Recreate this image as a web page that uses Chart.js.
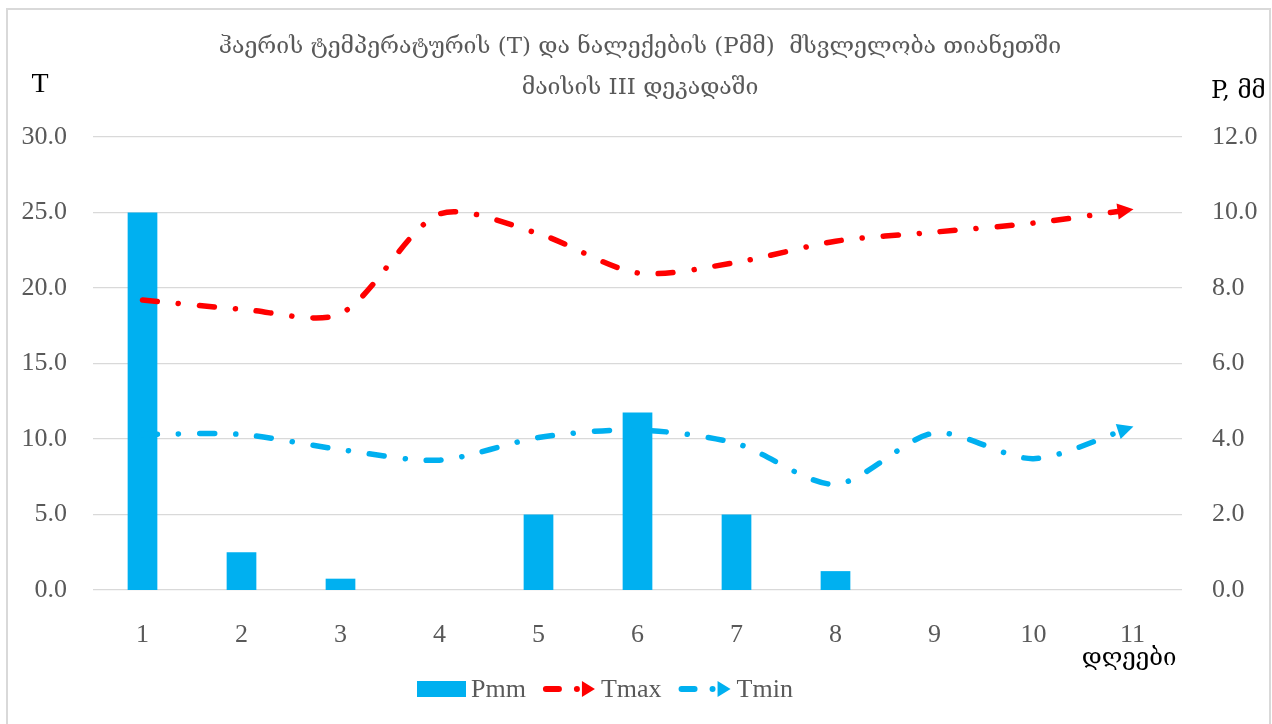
<!DOCTYPE html>
<html>
<head>
<meta charset="utf-8">
<script src="https://cdn.jsdelivr.net/npm/chart.js@4/dist/chart.umd.min.js"></script>
<style>
  html, body { margin: 0; padding: 0; background: #ffffff; }
  #wrap { width: 1272px; height: 724px; position: relative; }
</style>
</head>
<body>
<div id="wrap"><canvas id="chart" width="1272" height="724"></canvas></div>
<script>
// Days of the third decade of May
const days = ['1', '2', '3', '4', '5', '6', '7', '8', '9', '10', '11'];
// Precipitation, mm (right axis)
const precipitation = [10.0, 1.0, 0.3, 0, 2.0, 4.7, 2.0, 0.5, 0, 0, 0];
// Maximum and minimum air temperature, °C (left axis)
const tMax = [19.2, 18.6, 18.3, 24.9, 23.6, 21.0, 21.7, 23.1, 23.7, 24.3, 25.2];
const tMin = [10.3, 10.3, 9.3, 8.6, 10.1, 10.6, 9.7, 7.0, 10.4, 8.7, 10.8];
// Axis ticks
const tTicks = [0, 5, 10, 15, 20, 25, 30];
const pTicks = [0, 2, 4, 6, 8, 10, 12];

const titleLines = [
  'ჰაერის ტემპერატურის (T) და ნალექების (Pმმ)  მსვლელობა თიანეთში',
  'მაისის III დეკადაში'
];
const leftAxisTitle = 'T';
const rightAxisTitle = 'P, მმ';
const xAxisTitle = 'დღეები';

const BLUE = '#00b0f0';
const RED = '#ff0000';
const GRID = '#d9d9d9';
const TEXT = '#595959';
const SERIF = "'Liberation Serif', 'DejaVu Serif', serif";
const GEO = "'DejaVu Serif', 'Liberation Serif', serif";
const DASH = [15, 21, 0.1, 21];

// Outer frame and free-standing texts
const decorations = {
  id: 'decorations',
  beforeDraw(chart) {
    const ctx = chart.ctx;
    ctx.save();
    ctx.fillStyle = '#ffffff';
    ctx.fillRect(0, 0, chart.width, chart.height);
    ctx.strokeStyle = GRID;
    ctx.lineWidth = 2;
    ctx.strokeRect(7, 9, 1263, 730);
    ctx.restore();
  },
  afterDraw(chart) {
    const ctx = chart.ctx;
    ctx.save();
    ctx.textAlign = 'center';
    ctx.textBaseline = 'middle';
    ctx.fillStyle = TEXT;
    ctx.font = `23px ${GEO}`;
    ctx.fillText(titleLines[0], 640, 47);
    ctx.fillText(titleLines[1], 640, 88);

    ctx.fillStyle = '#000000';
    ctx.font = `28px ${SERIF}`;
    ctx.fillText(leftAxisTitle, 40, 85);
    ctx.font = `24px ${GEO}`;
    ctx.textAlign = 'left';
    ctx.fillText(rightAxisTitle, 1211, 92);
    ctx.textAlign = 'center';
    ctx.fillText(xAxisTitle, 1129, 659);
    ctx.restore();
  }
};

// Arrowheads at the end of each temperature line, following the curve tangent
const arrowHeads = {
  id: 'arrowHeads',
  afterDatasetsDraw(chart) {
    const ctx = chart.ctx;
    chart.data.datasets.forEach((ds, i) => {
      if (ds.type !== 'line') return;
      const meta = chart.getDatasetMeta(i);
      const pts = meta.data;
      const p = pts[pts.length - 1];
      let fx = p.cp1x, fy = p.cp1y;
      if (fx === undefined || (Math.abs(fx - p.x) < 0.5 && Math.abs(fy - p.y) < 0.5)) {
        fx = pts[pts.length - 2].x; fy = pts[pts.length - 2].y;
      }
      const ang = Math.atan2(p.y - fy, p.x - fx);
      const len = 16, half = 8;
      ctx.save();
      ctx.translate(p.x, p.y);
      ctx.rotate(ang);
      ctx.fillStyle = ds.borderColor;
      ctx.beginPath();
      ctx.moveTo(1, 0);
      ctx.lineTo(1 - len, -half);
      ctx.lineTo(1 - len, half);
      ctx.closePath();
      ctx.fill();
      ctx.restore();
    });
  }
};

// Legend under the plot, built from the datasets
const bottomLegend = {
  id: 'bottomLegend',
  afterDraw(chart) {
    const ctx = chart.ctx;
    const cy = 689;
    let x = 417;
    ctx.save();
    ctx.font = `26px ${SERIF}`;
    ctx.textBaseline = 'middle';
    ctx.textAlign = 'left';
    chart.data.datasets.forEach((ds) => {
      if (ds.type === 'bar') {
        ctx.fillStyle = ds.backgroundColor;
        ctx.fillRect(x, cy - 8, 49, 16);
        x += 54;
      } else {
        ctx.strokeStyle = ds.borderColor;
        ctx.fillStyle = ds.borderColor;
        ctx.lineWidth = 6;
        ctx.lineCap = 'round';
        ctx.beginPath();
        ctx.moveTo(x + 3, cy);
        ctx.lineTo(x + 16, cy);
        ctx.stroke();
        ctx.beginPath();
        ctx.arc(x + 34, cy, 3, 0, Math.PI * 2);
        ctx.fill();
        ctx.beginPath();
        ctx.moveTo(x + 52, cy);
        ctx.lineTo(x + 39, cy - 8);
        ctx.lineTo(x + 39, cy + 8);
        ctx.closePath();
        ctx.fill();
        x += 58;
      }
      ctx.fillStyle = TEXT;
      ctx.fillText(ds.label, x, cy + 1);
      x += ctx.measureText(ds.label).width + 17;
    });
    ctx.restore();
  }
};

const tickFont = { family: SERIF, size: 26 };

new Chart(document.getElementById('chart'), {
  data: {
    labels: days,
    datasets: [
      {
        type: 'bar',
        label: 'Pmm',
        data: precipitation,
        yAxisID: 'yP',
        backgroundColor: BLUE,
        borderWidth: 0,
        barPercentage: 0.3,
        categoryPercentage: 1.0,
        order: 2
      },
      {
        type: 'line',
        label: 'Tmax',
        data: tMax,
        yAxisID: 'yT',
        borderColor: RED,
        borderWidth: 5.5,
        borderDash: DASH,
        borderCapStyle: 'round',
        tension: 0.28,
        pointRadius: 0,
        fill: false,
        order: 1
      },
      {
        type: 'line',
        label: 'Tmin',
        data: tMin,
        yAxisID: 'yT',
        borderColor: BLUE,
        borderWidth: 5.5,
        borderDash: DASH,
        borderCapStyle: 'round',
        tension: 0.28,
        pointRadius: 0,
        fill: false,
        order: 1
      }
    ]
  },
  options: {
    responsive: false,
    animation: false,
    devicePixelRatio: 1,
    layout: { padding: { top: 137, bottom: 74, left: 0, right: 0 } },
    plugins: {
      legend: { display: false },
      title: { display: false },
      tooltip: { enabled: false }
    },
    scales: {
      x: {
        offset: true,
        grid: { display: false },
        border: { display: false },
        ticks: { font: tickFont, color: TEXT, padding: 22, maxRotation: 0 },
        afterFit(s) { s.height = 60; }
      },
      yT: {
        position: 'left',
        min: 0,
        max: 30,
        afterBuildTicks(s) { s.ticks = tTicks.map(v => ({ value: v })); },
        ticks: { font: tickFont, color: TEXT, padding: 26, callback: v => Number(v).toFixed(1) },
        grid: { color: GRID, lineWidth: 1.3, drawTicks: false },
        border: { display: false },
        afterFit(s) { s.width = 93; }
      },
      yP: {
        position: 'right',
        min: 0,
        max: 12,
        afterBuildTicks(s) { s.ticks = pTicks.map(v => ({ value: v })); },
        ticks: { font: tickFont, color: TEXT, padding: 30, callback: v => Number(v).toFixed(1) },
        grid: { display: false, drawTicks: false },
        border: { display: false },
        afterFit(s) { s.width = 90; }
      }
    }
  },
  plugins: [decorations, arrowHeads, bottomLegend]
});
</script>
</body>
</html>
